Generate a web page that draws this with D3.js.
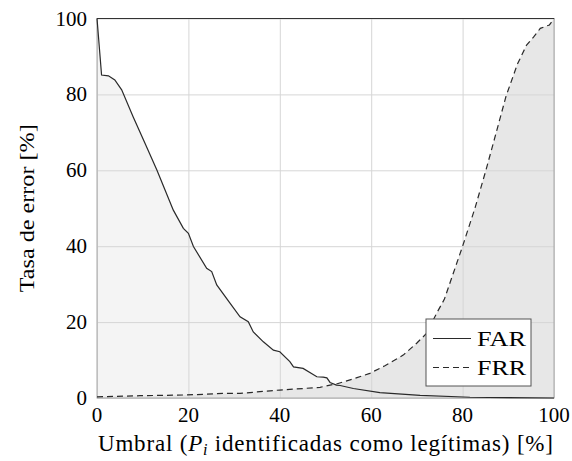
<!DOCTYPE html>
<html>
<head>
<meta charset="utf-8">
<script src="https://cdn.jsdelivr.net/npm/d3@7"></script>
</head>
<body style="margin:0">
<div id="chart"></div>
<script>
// FAR curve (threshold %, error %)
const farX = [0, 1, 2.5, 3.9, 5.4, 7.9, 10.5, 13.1, 16.7, 18.9, 20, 21.1, 24, 25.1, 26.2, 29.1, 31.3, 33.1, 34.2, 36.4, 38.6, 40, 42.2, 43, 45.1, 48.1, 49.5, 50.3, 51, 52.4, 53.2, 56.1, 61.9, 70.7, 81.6, 90, 100];
const farY = [100, 85.1, 84.9, 83.8, 81.2, 74.1, 67.1, 60.1, 49.5, 44.7, 43.4, 39.9, 34.2, 33.3, 29.8, 25, 21.4, 20.1, 17.4, 14.8, 12.6, 12.2, 9.6, 8.2, 7.8, 5.6, 5.5, 5.3, 4.1, 3.4, 3.3, 2.5, 1.4, 0.7, 0.2, 0.1, 0];
// FRR curve
const frrX = [0, 9.4, 19.6, 27.6, 31.3, 37.9, 40, 45.1, 48.8, 51, 52.4, 56, 59.7, 63, 67, 70, 72.1, 74.3, 76, 78, 80, 82.7, 85.1, 87.5, 89.5, 92, 94, 95.6, 97, 99, 100];
const frrY = [0.3, 0.6, 0.8, 1.2, 1.2, 1.9, 2.1, 2.5, 2.8, 3.4, 3.7, 5, 6.5, 8.5, 11.3, 14.5, 17, 22.3, 26, 33, 40, 50, 60, 70.6, 79.5, 88, 93, 95.2, 97.4, 98.3, 100];
const xTicks = [0, 20, 40, 60, 80, 100];
const yTicks = [0, 20, 40, 60, 80, 100];
const legendNames = ["FAR", "FRR"];

const F = "'Liberation Serif'";
const W = 572, H = 461;
const margin = {top: 18.5, right: 18, bottom: 63, left: 97};
const width = W - margin.left - margin.right,
      height = H - margin.top - margin.bottom;

const root = d3.select("#chart").append("svg")
    .attr("width", W).attr("height", H);
const svg = root.append("g")
    .attr("transform", "translate(" + margin.left + "," + margin.top + ")");

const x = d3.scaleLinear().domain([0, 100]).range([0, width]);
const y = d3.scaleLinear().domain([0, 100]).range([height, 0]);

const far = farX.map((v, i) => ({x: v, y: farY[i]}));
const frr = frrX.map((v, i) => ({x: v, y: frrY[i]}));

const area = d3.area().x(d => x(d.x)).y0(y(0)).y1(d => y(d.y));
const line = d3.line().x(d => x(d.x)).y(d => y(d.y));

// fills
svg.append("path").datum(far).attr("d", area).attr("fill", "#f4f4f4");
svg.append("path").datum(frr).attr("d", area).attr("fill", "#e7e7e7");

// grid
svg.append("g")
    .attr("transform", "translate(0," + height + ")")
    .call(d3.axisBottom(x).tickValues(xTicks).tickSize(-height).tickFormat(""))
    .call(g => g.select(".domain").remove())
    .call(g => g.selectAll("line").attr("stroke", "#d6d6d6"));
svg.append("g")
    .call(d3.axisLeft(y).tickValues(yTicks).tickSize(-width).tickFormat(""))
    .call(g => g.select(".domain").remove())
    .call(g => g.selectAll("line").attr("stroke", "#d6d6d6"));

// frame
svg.append("rect").attr("width", width).attr("height", height)
    .attr("fill", "none").attr("stroke", "#a8a8a8");
svg.append("line").attr("x1", 0).attr("x2", width).attr("y1", 0).attr("y2", 0)
    .attr("stroke", "#333");

// curves
svg.append("path").datum(far).attr("d", line)
    .attr("fill", "none").attr("stroke", "#2a2a2a").attr("stroke-width", 1.2);
svg.append("path").datum(frr).attr("d", line)
    .attr("fill", "none").attr("stroke", "#2a2a2a").attr("stroke-width", 1.2)
    .attr("stroke-dasharray", "6,4");

// legend
const lg = svg.append("g").attr("transform", "translate(" + (426 - margin.left) + "," + (319 - margin.top) + ")");
lg.append("rect").attr("width", 105).attr("height", 67)
    .attr("fill", "#fff").attr("stroke", "#555");
legendNames.forEach((name, i) => {
    const yy = 19.5 + i * 29;
    lg.append("line").attr("x1", 7).attr("x2", 45).attr("y1", yy).attr("y2", yy)
        .attr("stroke", "#2a2a2a").attr("stroke-width", 1.2)
        .attr("stroke-dasharray", i === 1 ? "6,4" : null);
    lg.append("text").attr("x", 51).attr("y", yy + 7).attr("font-size", 22)
        .style("font-family", F)
        .attr("textLength", 49).attr("lengthAdjust", "spacingAndGlyphs")
        .text(name);
});

// tick labels
svg.selectAll(".xt").data(xTicks).enter().append("text")
    .attr("x", d => x(d)).attr("y", height + 24)
    .attr("text-anchor", "middle").attr("font-size", 21)
    .style("font-family", F).text(d => d);
svg.selectAll(".yt").data(yTicks).enter().append("text")
    .attr("x", -10).attr("y", d => y(d) + 7)
    .attr("text-anchor", "end").attr("font-size", 21)
    .style("font-family", F).text(d => d);

// axis titles
svg.append("text")
    .attr("transform", "translate(-63," + (height / 2) + ") rotate(-90)")
    .attr("text-anchor", "middle").attr("font-size", 22)
    .style("font-family", F)
    .attr("textLength", 168).attr("lengthAdjust", "spacingAndGlyphs")
    .text("Tasa de error [%]");

const xl = svg.append("text")
    .attr("x", width / 2).attr("y", height + 53)
    .attr("text-anchor", "middle").attr("font-size", 23)
    .style("font-family", F)
    .attr("textLength", 455).attr("lengthAdjust", "spacing");
xl.append("tspan").text("Umbral (");
xl.append("tspan").attr("font-style", "italic").text("P");
xl.append("tspan").attr("font-style", "italic").attr("font-size", 16).attr("dy", 4).text("i");
xl.append("tspan").attr("dy", -4).text(" identificadas como legítimas) [%]");
</script>
</body>
</html>
